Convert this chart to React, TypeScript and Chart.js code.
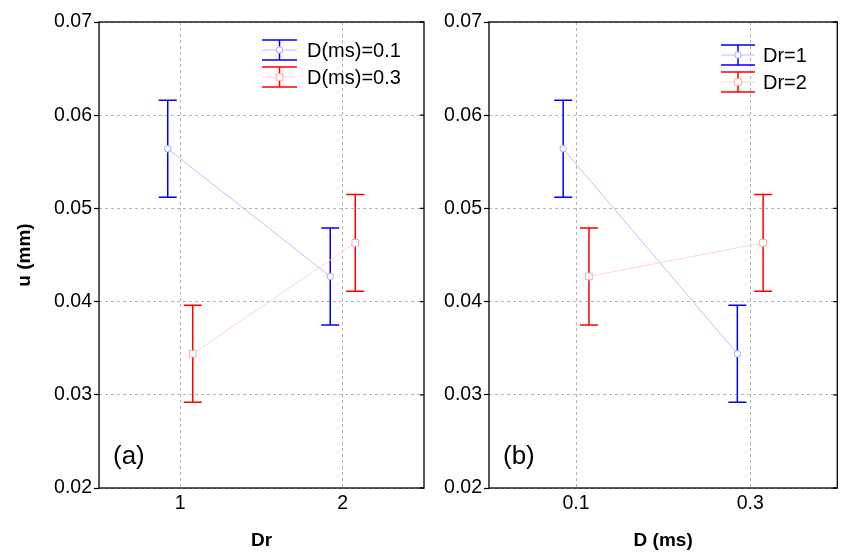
import React, { useEffect, useRef } from 'react';
import { Chart, registerables } from 'chart.js';
Chart.register(...registerables);

// ---- data ----
const drLevels = [1, 2];
const dLevels = [0.1, 0.3];
const yTicks = [0.02, 0.03, 0.04, 0.05, 0.06, 0.07];
// panel (a): u (mm) vs Dr, one series per D
const uD01 = [0.0564, 0.0427];
const errD01 = [0.0052, 0.0052];
const uD03 = [0.0344, 0.0463];
const errD03 = [0.0052, 0.0052];
// panel (b): u (mm) vs D, one series per Dr
const uDr1 = [0.0564, 0.0344];
const errDr1 = [0.0052, 0.0052];
const uDr2 = [0.0427, 0.0463];
const errDr2 = [0.0052, 0.0052];

const FONT = "'Liberation Sans', Arial, sans-serif";
const BLUE = '#0000ff';
const RED = '#ff0000';
const BLUE_LINE = 'rgb(190,190,255)';
const RED_LINE = 'rgb(255,212,212)';
const BLUE_MARK = 'rgb(165,165,255)';
const RED_MARK = 'rgb(255,170,170)';

const decorPlugin = {
  id: 'decor',
  beforeDatasetsDraw(chart: any) {
    const { ctx, scales } = chart;
    const ys = scales.y;
    chart.data.datasets.forEach((ds: any, i: number) => {
      const meta = chart.getDatasetMeta(i);
      ctx.save();
      ctx.strokeStyle = ds.errColor;
      ctx.lineWidth = 1.5;
      meta.data.forEach((el: any, j: number) => {
        const v = ds.data[j].y;
        const e = ds.err[j];
        const yt = ys.getPixelForValue(v + e);
        const yb = ys.getPixelForValue(v - e);
        const x = el.x;
        const cw = 9;
        ctx.beginPath();
        ctx.moveTo(x, yt);
        ctx.lineTo(x, yb);
        ctx.moveTo(x - cw, yt);
        ctx.lineTo(x + cw, yt);
        ctx.moveTo(x - cw, yb);
        ctx.lineTo(x + cw, yb);
        ctx.stroke();
      });
      ctx.restore();
    });
  },
  afterDraw(chart: any, _args: any, opts: any) {
    const { ctx, chartArea: ca, scales } = chart;
    ctx.save();
    // frame
    ctx.strokeStyle = '#000';
    ctx.lineWidth = 1.3;
    ctx.strokeRect(ca.left, ca.top, ca.right - ca.left, ca.bottom - ca.top);
    // right inner ticks
    ctx.beginPath();
    scales.y.ticks.forEach((t: any) => {
      const p = scales.y.getPixelForValue(t.value);
      ctx.moveTo(ca.right, p);
      ctx.lineTo(ca.right - 4, p);
    });
    ctx.stroke();
    // panel label
    ctx.fillStyle = '#000';
    ctx.font = `26px ${FONT}`;
    ctx.textBaseline = 'middle';
    ctx.textAlign = 'left';
    ctx.fillText(opts.label, ca.left + 14, ca.bottom - 31);
    // legend
    const lx = ca.left + opts.legendX;
    const w = opts.symW;
    chart.data.datasets.forEach((ds: any, i: number) => {
      const cy = ca.top + opts.legendY[i];
      const cx = lx + w / 2;
      ctx.strokeStyle = ds.errColor;
      ctx.lineWidth = 1.5;
      ctx.beginPath();
      ctx.moveTo(lx, cy - 10);
      ctx.lineTo(lx + w, cy - 10);
      ctx.moveTo(lx, cy + 10);
      ctx.lineTo(lx + w, cy + 10);
      ctx.moveTo(cx, cy - 10);
      ctx.lineTo(cx, cy + 10);
      ctx.stroke();
      ctx.strokeStyle = ds.borderColor;
      ctx.lineWidth = 1;
      ctx.beginPath();
      ctx.moveTo(lx, cy);
      ctx.lineTo(lx + w, cy);
      ctx.stroke();
      ctx.fillStyle = '#fff';
      ctx.strokeStyle = ds.pointBorderColor;
      ctx.beginPath();
      if (ds.pointStyle === 'rect') {
        ctx.rect(cx - 3.3, cy - 3.3, 6.6, 6.6);
      } else {
        ctx.arc(cx, cy, 3.2, 0, Math.PI * 2);
      }
      ctx.fill();
      ctx.stroke();
      ctx.fillStyle = '#000';
      ctx.font = `20px ${FONT}`;
      ctx.textBaseline = 'middle';
      ctx.fillText(ds.label, lx + w + opts.textGap, cy + 1);
    });
    ctx.restore();
  },
};

function makeDataset(label: string, xs: number[], dodge: number, ys: number[], err: number[], blue: boolean) {
  return {
    label,
    data: xs.map((x, i) => ({ x: x + dodge, y: ys[i] })),
    err,
    errColor: blue ? BLUE : RED,
    borderColor: blue ? BLUE_LINE : RED_LINE,
    borderWidth: 1,
    pointStyle: blue ? 'circle' : 'rect',
    pointRadius: blue ? 3.2 : 4.7,
    pointBorderWidth: 1,
    pointBorderColor: blue ? BLUE_MARK : RED_MARK,
    pointBackgroundColor: '#fff',
    tension: 0,
    fill: false,
  };
}

function makeConfig(p: any) {
  return {
    type: 'line',
    data: { datasets: p.datasets },
    options: {
      animation: false,
      responsive: false,
      events: [],
      layout: { padding: { top: 22, right: p.padRight, left: 0, bottom: 0 } },
      plugins: {
        legend: { display: false },
        tooltip: { enabled: false },
        decor: p.decor,
      },
      scales: {
        x: {
          type: 'linear',
          min: p.xMin,
          max: p.xMax,
          afterBuildTicks: (s: any) => { s.ticks = p.xTicks.map((v: number) => ({ value: v })); },
          afterFit: (s: any) => { s.height = 64; },
          ticks: {
            font: { family: FONT, size: 19.5 },
            color: '#000',
            padding: 4,
            maxRotation: 0,
            callback: (v: any) => String(v),
          },
          grid: { color: '#b4b4b4', drawTicks: false, lineWidth: 1 },
          border: { display: false, dash: [3, 3] },
          title: {
            display: true,
            text: p.xTitle,
            color: '#000',
            font: { family: FONT, size: 19, weight: 'bold' },
            padding: { top: 0, bottom: 0 },
          },
        },
        y: {
          type: 'linear',
          min: 0.02,
          max: 0.07,
          afterBuildTicks: (s: any) => { s.ticks = yTicks.map((v) => ({ value: v })); },
          afterFit: (s: any) => { s.width = p.yWidth; },
          ticks: {
            font: { family: FONT, size: 19.5 },
            color: '#000',
            padding: 2,
            callback: (v: any) => Number(v).toFixed(2),
          },
          grid: {
            color: '#b4b4b4',
            drawTicks: true,
            tickLength: 5,
            tickColor: '#000',
            tickWidth: 1.2,
            tickBorderDash: [],
          },
          border: { display: false, dash: [3, 3] },
          title: {
            display: !!p.yTitle,
            text: p.yTitle || '',
            color: '#000',
            font: { family: FONT, size: 19, weight: 'bold' },
            padding: { top: 13, bottom: 0 },
          },
        },
      },
    },
    plugins: [decorPlugin],
  };
}

function Panel(props: { cfg: any; left: number; width: number }) {
  const ref = useRef<HTMLCanvasElement>(null);
  useEffect(() => {
    const chart = new Chart(ref.current as HTMLCanvasElement, props.cfg);
    return () => chart.destroy();
  }, []);
  return (
    <canvas
      ref={ref}
      width={props.width}
      height={552}
      style={{ position: 'absolute', left: props.left, top: 0, width: props.width, height: 552 }}
    />
  );
}

export default function App() {
  const dodgeA = 0.077;
  const dodgeB = 0.0148;
  const cfgA = makeConfig({
    datasets: [
      makeDataset('D(ms)=0.1', drLevels, -dodgeA, uD01, errD01, true),
      makeDataset('D(ms)=0.3', drLevels, dodgeA, uD03, errD03, false),
    ],
    xMin: 0.5,
    xMax: 2.5,
    xTicks: drLevels,
    xTitle: 'Dr',
    yTitle: 'u (mm)',
    yWidth: 99,
    padRight: 16,
    decor: { label: '(a)', legendX: 163, legendY: [28, 55], symW: 35, textGap: 10 },
  });
  const cfgB = makeConfig({
    datasets: [
      makeDataset('Dr=1', dLevels, -dodgeB, uDr1, errDr1, true),
      makeDataset('Dr=2', dLevels, dodgeB, uDr2, errDr2, false),
    ],
    xMin: 0.0,
    xMax: 0.4,
    xTicks: dLevels,
    xTitle: 'D (ms)',
    yTitle: '',
    yWidth: 68,
    padRight: 2,
    decor: { label: '(b)', legendX: 232, legendY: [33, 60], symW: 34, textGap: 8 },
  });
  return (
    <div style={{ position: 'absolute', left: 0, top: 0, width: 843, height: 552, background: '#fff' }}>
      <Panel cfg={cfgA} left={0} width={440} />
      <Panel cfg={cfgB} left={421} width={422} />
    </div>
  );
}
